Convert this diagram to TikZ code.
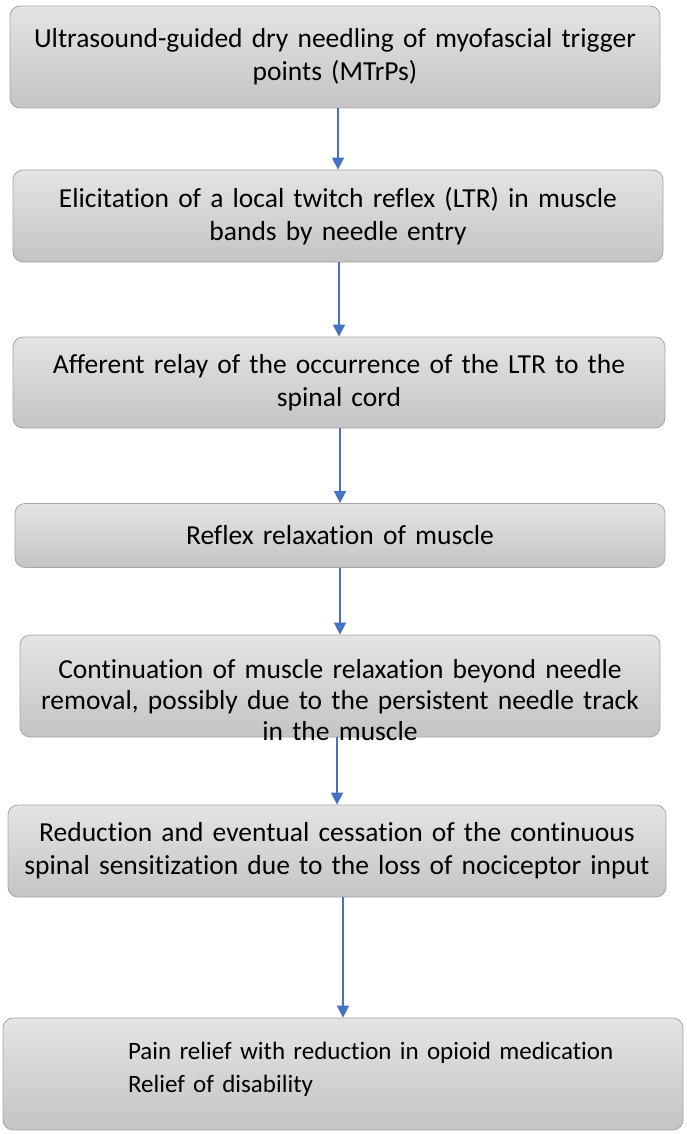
\documentclass[tikz,border=0pt]{standalone}
\usepackage{fontspec}
\setmainfont[Ligatures=NoCommon,WordSpace=0.85]{Carlito}
\usetikzlibrary{arrows.meta}

\definecolor{boxtop}{HTML}{E4E4E4}
\definecolor{boxbot}{HTML}{C4C4C4}
\definecolor{boxline}{HTML}{A6A6A6}
\definecolor{arrowblue}{HTML}{4472C4}

\tikzset{
  stage/.style={draw=boxline, line width=0.8pt, rounded corners=10pt,
    top color=boxtop, bottom color=boxbot, align=center,
    font=\fontsize{27.5}{33}\selectfont, inner sep=0pt},
  flow/.style={arrowblue, line width=1.6pt, -{Triangle[width=12pt,length=12pt]}}
}

\begin{document}
\begin{tikzpicture}[x=1pt,y=-1pt]
\useasboundingbox (0,0) rectangle (686,1134);

\node[stage, minimum width=650, minimum height=102, text width=640] (b1) at (335,57)
  {Ultrasound-guided dry needling of myofascial trigger\\points (MTrPs)};
\node[stage, minimum width=650, minimum height=92, text width=640] (b2) at (338,216)
  {Elicitation of a local twitch reflex (LTR) in muscle\\bands by needle entry};
\node[stage, minimum width=652, minimum height=91, text width=640] (b3) at (339,382.5)
  {Afferent relay of the occurrence of the LTR to the\\spinal cord};
\node[stage, minimum width=650, minimum height=64, text width=640] (b4) at (340,535.5)
  {Reflex relaxation of muscle};
\node[stage, minimum width=640, text height=43, text depth=59, text width=636,
  font=\fontsize{27.5}{31}\selectfont] (b5) at (340,686)
  {Continuation of muscle relaxation beyond needle\\removal, possibly due to the persistent needle track\\in the muscle};
\node[stage, minimum width=658, minimum height=92, text width=656] (b6) at (337,851)
  {Reduction and eventual cessation of the continuous\\spinal sensitization due to the loss of nociceptor input};
\node[stage, minimum width=680, text height=41, text depth=71, text width=600, align=left,
  font=\fontsize{25}{33}\selectfont] (b7) at (343,1074)
  {\hspace*{85pt}\mbox{Pain relief with reduction in opioid medication}\\\hspace*{85pt}\mbox{Relief of disability}};

\draw[flow] (b1.south -| b2.north) -- (b2.north);
\draw[flow] (b2.south -| b3.north) -- (b3.north);
\draw[flow] (b3.south -| b4.north) -- (b4.north);
\draw[flow] (b4.south -| b5.north) -- (b5.north);
\draw[flow] (b5.south -| b6.north) -- (b6.north);
\draw[flow] (b6.south -| b7.north) -- (b7.north);

\end{tikzpicture}
\end{document}
